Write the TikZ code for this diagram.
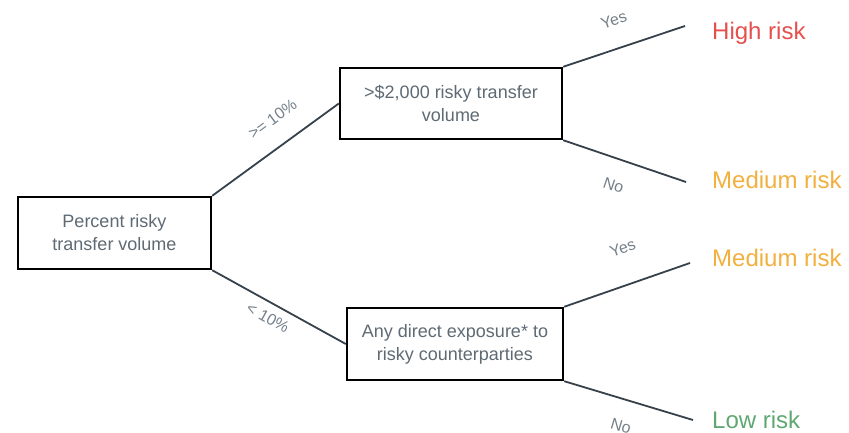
\documentclass[tikz,border=0pt]{standalone}
\usepackage{fontspec}
\setmainfont{Liberation Sans}
\definecolor{boxtext}{HTML}{5E6A74}
\definecolor{edgetext}{HTML}{76818B}
\definecolor{branchline}{HTML}{36414B}
\definecolor{riskred}{HTML}{E5504F}
\definecolor{riskorange}{HTML}{F2B03E}
\definecolor{riskgreen}{HTML}{5FA872}
\begin{document}
\begin{tikzpicture}[x=1pt,y=-1pt,
  decision/.style={draw=black, line width=2.4pt, fill=white, align=center,
    text=boxtext, font=\fontsize{18}{23}\selectfont, inner sep=0pt},
  branch/.style={draw=branchline, line width=1.8pt},
  edgelabel/.style={sloped, inner sep=1pt, text=edgetext, font=\fontsize{16}{18}\selectfont},
  outcome/.style={anchor=base west, inner sep=0pt, font=\fontsize{24}{28}\selectfont}]
  % canvas
  \path[use as bounding box, fill=white] (0,0) rectangle (849,433);

  % decision boxes
  \node[decision, minimum width=193pt, minimum height=72pt] (root) at (114.5,233)
    {Percent risky\\transfer volume};
  \node[decision, minimum width=222pt, minimum height=71pt] (top) at (451,103.5)
    {>\$2,000 risky transfer\\volume};
  \node[decision, minimum width=216pt, minimum height=72pt] (bot) at (455,344)
    {Any direct exposure* to\\risky counterparties};

  % free ends of the outcome branches
  \coordinate (hiEnd) at (685,26);
  \coordinate (m1End) at (686,182);
  \coordinate (m2End) at (690,263);
  \coordinate (loEnd) at (693,420);

  % branches, each with its condition set off the line
  \draw[branch] (root.north east) -- (top.west)
    node[edgelabel, pos=0.6, anchor=south, yshift=19pt] {>= 10\%};
  \draw[branch] (root.south east) -- (bot.west)
    node[edgelabel, pos=0.47, anchor=north, yshift=-7pt] {< 10\%};
  \draw[branch] (top.north east) -- (hiEnd)
    node[edgelabel, pos=0.49, anchor=south, yshift=21pt] {Yes};
  \draw[branch] (top.south east) -- (m1End)
    node[edgelabel, pos=0.48, anchor=north, yshift=-19pt] {No};
  \draw[branch] (bot.north east) -- (m2End)
    node[edgelabel, pos=0.56, anchor=south, yshift=29pt] {Yes};
  \draw[branch] (bot.south east) -- (loEnd)
    node[edgelabel, pos=0.5, anchor=north, yshift=-19pt] {No};

  % outcomes
  \node[outcome, text=riskred] (high) at (712,40) {High risk};
  \node[outcome, text=riskorange] (med1) at (712,189) {Medium risk};
  \node[outcome, text=riskorange] (med2) at (712,266) {Medium risk};
  \node[outcome, text=riskgreen] (low) at (712,428) {Low risk};
\end{tikzpicture}
\end{document}
